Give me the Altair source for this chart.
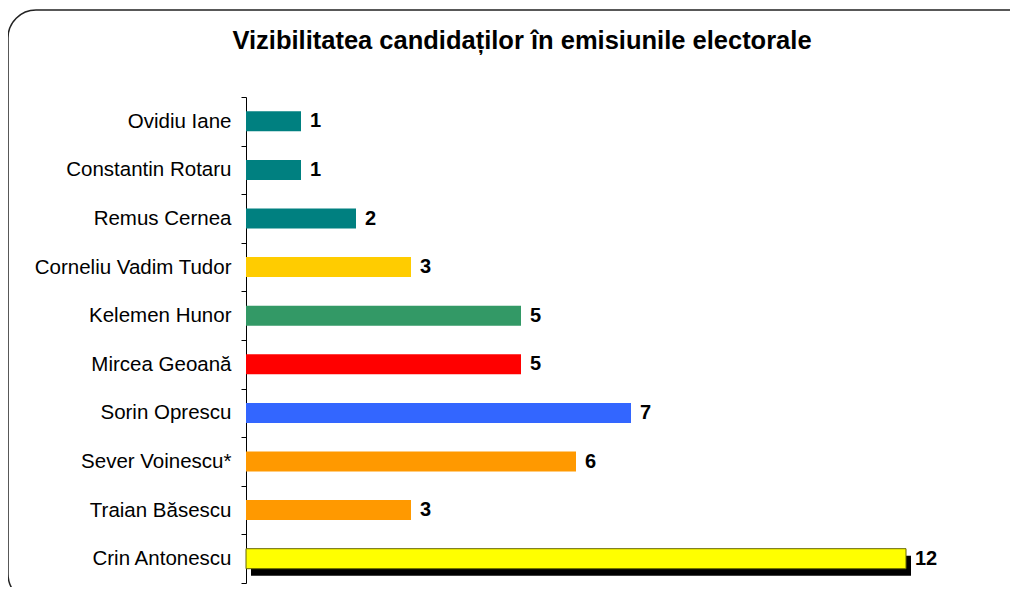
import altair as alt
import pandas as pd

names = ["Ovidiu Iane", "Constantin Rotaru", "Remus Cernea", "Corneliu Vadim Tudor",
         "Kelemen Hunor", "Mircea Geoană", "Sorin Oprescu", "Sever Voinescu*",
         "Traian Băsescu", "Crin Antonescu"]
values = [1, 1, 2, 3, 5, 5, 7, 6, 3, 12]
colors = ["#008080", "#008080", "#008080", "#FFCC00", "#339966", "#FF0000",
          "#3366FF", "#FF9900", "#FF9900", "#FFFF00"]
title_text = "Vizibilitatea candidaților în emisiunile electorale"

df = pd.DataFrame({"name": names, "value": values, "color": colors})

FONT = "Liberation Sans"

y_enc = alt.Y("name:N", sort=names, title=None,
              scale=alt.Scale(paddingInner=0, paddingOuter=0),
              axis=alt.Axis(labelFont=FONT, labelFontSize=20.5, labelColor="black",
                            labelLimit=400,
                            tickBand="extent", tickSize=5, tickColor="black",
                            domainColor="black", labelPadding=10))
x_enc = alt.X("value:Q", scale=alt.Scale(domain=[0, 13.8], nice=False), axis=None)

base = alt.Chart(df)

frame = alt.Chart(alt.Data(values=[{"a": 1}])).mark_rect(
    fill="transparent", stroke="#222222", strokeWidth=1.5, cornerRadius=28
).encode(x=alt.value(-238), x2=alt.value(790), y=alt.value(-87), y2=alt.value(505))

title = alt.Chart(alt.Data(values=[{"t": title_text}])).mark_text(
    font=FONT, fontSize=25.5, fontWeight="bold", color="black",
    align="center", baseline="alphabetic"
).encode(text="t:N", x=alt.value(276), y=alt.value(-48))

shadow = base.transform_filter(alt.datum.name == "Crin Antonescu").mark_bar(
    height=20, color="black", xOffset=5, yOffset=7
).encode(x=x_enc, y=y_enc)

bars = base.mark_bar(height=20, stroke="#666600").encode(
    x=x_enc, y=y_enc,
    color=alt.Color("color:N", scale=None),
    strokeWidth=alt.condition(alt.datum.name == "Crin Antonescu", alt.value(1), alt.value(0)),
)

labels = base.mark_text(align="left", baseline="middle", dx=9, font=FONT,
                        fontSize=20, fontWeight="bold", color="black").encode(
    x=x_enc, y=y_enc, text="value:Q")

chart = alt.layer(frame, title, shadow, bars, labels).properties(
    width=759, height=486,
    autosize=alt.AutoSizeParams(type="none"),
    padding={"left": 238, "top": 89, "right": 5, "bottom": 4},
).configure_view(stroke=None)

chart.save("out.html", embed_options={"renderer": "svg", "actions": False})
